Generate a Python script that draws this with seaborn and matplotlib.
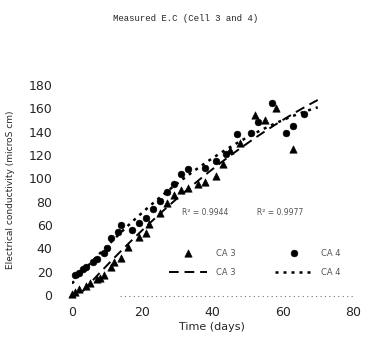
import matplotlib
matplotlib.use("Agg")
import matplotlib.pyplot as plt
import seaborn as sns
import numpy as np
import pandas as pd

# values
ca3_days = [0, 1, 2, 4, 5, 7, 8, 9, 11, 12, 14, 16, 19, 21, 22, 25, 27, 29, 31, 33,
            36, 38, 41, 43, 45, 48, 52, 55, 58, 63]
ca3_ec = [1, 3, 5, 8, 10, 14, 15, 17, 24, 28, 32, 41, 50, 53, 61, 70, 79, 86, 90, 92,
          95, 97, 102, 112, 124, 130, 154, 150, 160, 125]
ca4_days = [1, 2, 3, 4, 6, 7, 9, 10, 11, 13, 14, 17, 19, 21, 23, 25, 27, 29, 31, 33,
            38, 41, 44, 47, 51, 53, 57, 61, 63, 66]
ca4_ec = [17, 19, 22, 24, 28, 31, 36, 40, 49, 54, 60, 56, 62, 66, 74, 81, 88, 95, 104, 108,
          109, 115, 121, 138, 139, 148, 165, 139, 145, 155]
r2_text = "R² = 0.9944            R² = 0.9977"

df3 = pd.DataFrame({"day": ca3_days, "ec": ca3_ec})
df4 = pd.DataFrame({"day": ca4_days, "ec": ca4_ec})

# 2nd order trend lines, as in the spreadsheet
grid = np.linspace(0, 70, 80)
fit3 = pd.DataFrame({"day": grid, "ec": np.polyval(np.polyfit(ca3_days, ca3_ec, 2), grid)})
fit4 = pd.DataFrame({"day": grid, "ec": np.polyval(np.polyfit(ca4_days, ca4_ec, 2), grid)})

sns.set_style("white")
fig = plt.figure(figsize=(3.71, 3.46), dpi=100)
ax = fig.add_axes([0.194, 0.147, 0.757, 0.607])

sns.scatterplot(data=df3, x="day", y="ec", marker="^", s=28, color="black",
                edgecolor="black", ax=ax, label="CA 3", clip_on=False, zorder=3)
sns.lineplot(data=fit3, x="day", y="ec", color="black", lw=1.4, ax=ax,
             label="CA 3", zorder=2)
ax.lines[-1].set_dashes([5, 3])
sns.scatterplot(data=df4, x="day", y="ec", marker="o", s=24, color="black",
                edgecolor="black", ax=ax, label="CA 4", clip_on=False, zorder=3)
sns.lineplot(data=fit4, x="day", y="ec", color="black", lw=1.8, ax=ax,
             label="CA 4", zorder=2)
ax.lines[-1].set_dashes([1.2, 2])

ax.set_xlim(0, 80)
ax.set_ylim(0, 180)
ax.set_xticks([0, 20, 40, 60, 80])
ax.set_yticks(range(0, 181, 20))
for s in ax.spines.values():
    s.set_visible(False)
ax.axhline(-1, xmin=0.17, xmax=1.0, color="#777777", lw=0.8, ls=(0, (1, 3)), clip_on=False)
ax.tick_params(axis="y", length=2, width=1.5, pad=12, labelsize=9, color="#333333")
ax.tick_params(axis="x", length=0, pad=8, labelsize=9)

ax.set_xlabel("Time (days)", fontsize=8, labelpad=2)
ax.set_ylabel("Electrical conductivity (microS cm)", fontsize=6.5, labelpad=10)
fig.text(0.5, 0.94, "Measured E.C (Cell 3 and 4)", ha="center", fontsize=6.5,
         family="Liberation Mono")
ax.text(0.39, 0.38, r2_text, transform=ax.transAxes, fontsize=5.5, color="#555555")

ax.legend(loc="upper left", bbox_to_anchor=(0.32, 0.257), ncol=2, frameon=False,
          fontsize=6, labelcolor="#555555", columnspacing=4.7, handlelength=4.5,
          handletextpad=1.1, labelspacing=1.25)

fig.savefig("out.png", dpi=100)
